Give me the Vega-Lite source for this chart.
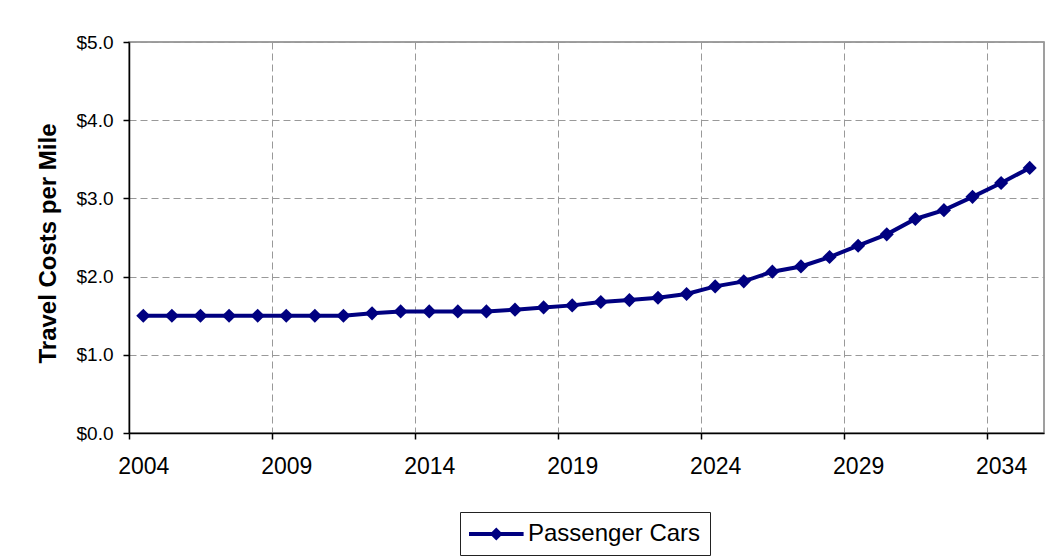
{
  "$schema": "https://vega.github.io/schema/vega-lite/v6.json",
  "width": 915,
  "height": 391,
  "autosize": {"type": "none"},
  "padding": {"left": 129, "top": 42, "right": 9, "bottom": 127},
  "background": "white",
  "config": {
    "font": "Liberation Sans",
    "view": {"stroke": "#808080", "strokeWidth": 1.5}
  },
  "data": {
    "values": [
      {"year": 2004, "cost": 1.50, "series": "Passenger Cars"},
      {"year": 2005, "cost": 1.50, "series": "Passenger Cars"},
      {"year": 2006, "cost": 1.50, "series": "Passenger Cars"},
      {"year": 2007, "cost": 1.50, "series": "Passenger Cars"},
      {"year": 2008, "cost": 1.50, "series": "Passenger Cars"},
      {"year": 2009, "cost": 1.50, "series": "Passenger Cars"},
      {"year": 2010, "cost": 1.50, "series": "Passenger Cars"},
      {"year": 2011, "cost": 1.50, "series": "Passenger Cars"},
      {"year": 2012, "cost": 1.53, "series": "Passenger Cars"},
      {"year": 2013, "cost": 1.555, "series": "Passenger Cars"},
      {"year": 2014, "cost": 1.555, "series": "Passenger Cars"},
      {"year": 2015, "cost": 1.555, "series": "Passenger Cars"},
      {"year": 2016, "cost": 1.555, "series": "Passenger Cars"},
      {"year": 2017, "cost": 1.577, "series": "Passenger Cars"},
      {"year": 2018, "cost": 1.606, "series": "Passenger Cars"},
      {"year": 2019, "cost": 1.632, "series": "Passenger Cars"},
      {"year": 2020, "cost": 1.675, "series": "Passenger Cars"},
      {"year": 2021, "cost": 1.70, "series": "Passenger Cars"},
      {"year": 2022, "cost": 1.73, "series": "Passenger Cars"},
      {"year": 2023, "cost": 1.777, "series": "Passenger Cars"},
      {"year": 2024, "cost": 1.875, "series": "Passenger Cars"},
      {"year": 2025, "cost": 1.939, "series": "Passenger Cars"},
      {"year": 2026, "cost": 2.063, "series": "Passenger Cars"},
      {"year": 2027, "cost": 2.13, "series": "Passenger Cars"},
      {"year": 2028, "cost": 2.25, "series": "Passenger Cars"},
      {"year": 2029, "cost": 2.395, "series": "Passenger Cars"},
      {"year": 2030, "cost": 2.54, "series": "Passenger Cars"},
      {"year": 2031, "cost": 2.737, "series": "Passenger Cars"},
      {"year": 2032, "cost": 2.85, "series": "Passenger Cars"},
      {"year": 2033, "cost": 3.02, "series": "Passenger Cars"},
      {"year": 2034, "cost": 3.197, "series": "Passenger Cars"},
      {"year": 2035, "cost": 3.39, "series": "Passenger Cars"}
    ]
  },
  "mark": {
    "type": "line",
    "strokeWidth": 4,
    "point": {"shape": "diamond", "size": 200, "filled": true, "opacity": 1}
  },
  "encoding": {
    "x": {
      "field": "year",
      "type": "quantitative",
      "scale": {"domain": [2003.5, 2035.5], "nice": false, "zero": false},
      "axis": {
        "title": null,
        "values": [2003.5, 2008.5, 2013.5, 2018.5, 2023.5, 2028.5, 2033.5],
        "labelExpr": "format(datum.value + 0.5, 'd')",
        "labelOffset": 14.3,
        "grid": true,
        "gridDash": [7, 4],
        "gridColor": "#999999",
        "gridWidth": 1,
        "tickSize": 6,
        "tickColor": "#000000",
        "tickWidth": 1.5,
        "domainColor": "#000000",
        "domainWidth": 1.5,
        "labelFontSize": 23,
        "labelColor": "#000000",
        "labelPadding": 16,
        "labelFlush": false,
        "labelOverlap": false,
        "labelBound": false
      }
    },
    "y": {
      "field": "cost",
      "type": "quantitative",
      "scale": {"domain": [0, 5], "nice": false},
      "axis": {
        "title": "Travel Costs per Mile",
        "titleFontSize": 24,
        "titleFontWeight": "bold",
        "titleColor": "#000000",
        "titlePadding": 16,
        "titleY": 201,
        "values": [0, 1, 2, 3, 4, 5],
        "format": "$.1f",
        "grid": true,
        "gridDash": [7, 4],
        "gridColor": "#999999",
        "gridWidth": 1,
        "tickSize": 6,
        "tickColor": "#000000",
        "tickWidth": 1.5,
        "domainColor": "#000000",
        "domainWidth": 1.5,
        "labelFontSize": 19,
        "labelColor": "#000000",
        "labelPadding": 10
      }
    },
    "color": {
      "field": "series",
      "type": "nominal",
      "scale": {"range": ["#000080"]},
      "legend": {
        "title": null,
        "orient": "none",
        "legendX": 331,
        "legendY": 470,
        "strokeColor": "#222222",
        "padding": 9,
        "labelFontSize": 24,
        "labelColor": "#000000",
        "labelOffset": 33,
        "labelLimit": 0,
        "symbolType": "M-1,-0.15H3.2V0.15H-1Z M1.1,-0.5L1.6,0L1.1,0.5L0.6,0Z",
        "symbolSize": 676,
        "symbolStrokeWidth": 0,
        "symbolFillColor": "#000080",
        "encode": {
          "symbols": {
            "update": {
              "fill": {"value": "#000080"},
              "strokeWidth": {"value": 0},
              "opacity": {"value": 1}
            }
          }
        }
      }
    }
  }
}
